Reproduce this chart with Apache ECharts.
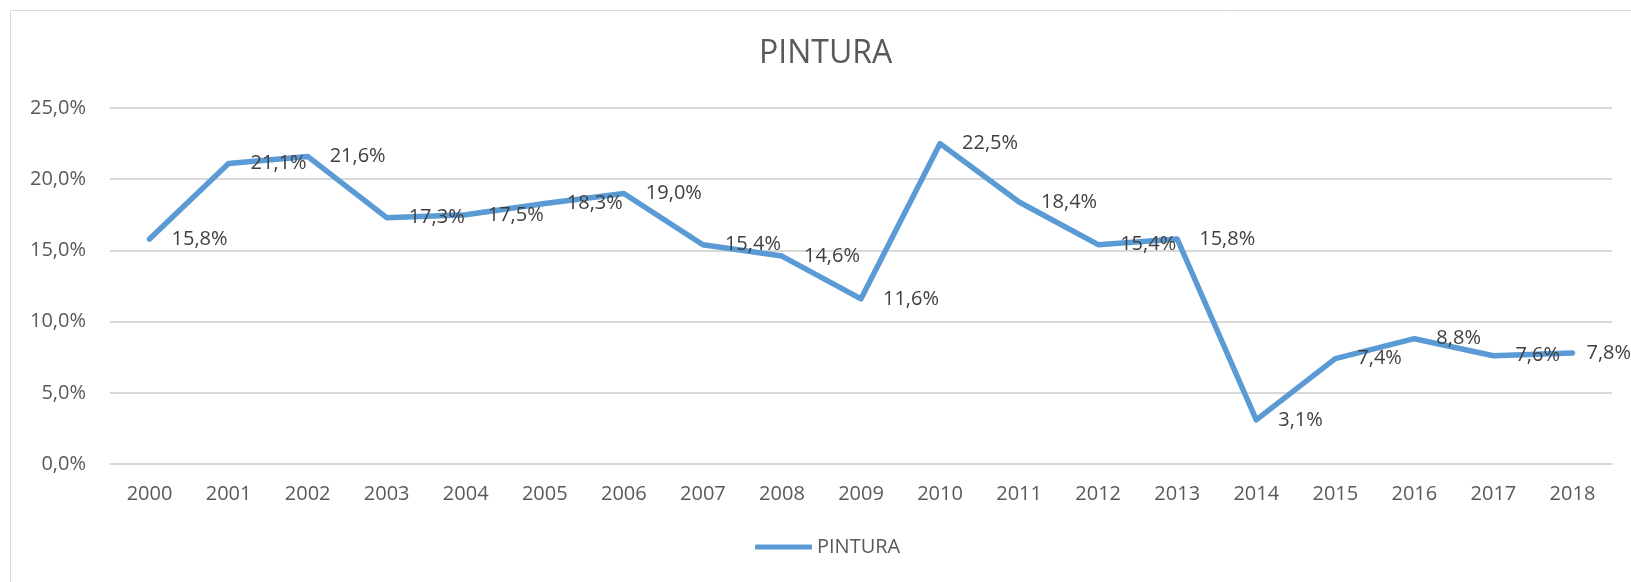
<!DOCTYPE html>
<html>
<head>
<meta charset="utf-8">
<title>PINTURA</title>
<script src="https://cdn.jsdelivr.net/npm/echarts@6/dist/echarts.min.js"></script>
<style>
  html, body { margin: 0; padding: 0; background: #fff; }
  #chart { width: 1631px; height: 582px; }
</style>
</head>
<body>
<div id="chart"></div>
<script>
// datos del gráfico
var years = ['2000', '2001', '2002', '2003', '2004', '2005', '2006', '2007', '2008', '2009',
  '2010', '2011', '2012', '2013', '2014', '2015', '2016', '2017', '2018'];
var pintura = [15.8, 21.1, 21.6, 17.3, 17.5, 18.3, 19.0, 15.4, 14.6, 11.6,
  22.5, 18.4, 15.4, 15.8, 3.1, 7.4, 8.8, 7.6, 7.8];
var yTicks = [0, 5, 10, 15, 20, 25];

var fontFamily = "'Open Sans', 'Noto Sans', sans-serif";

// formato con coma decimal
function pct(v) {
  return Number(v).toFixed(1).replace('.', ',') + '%';
}

var chart = echarts.init(document.getElementById('chart'));

var option = {
  animation: false,
  textStyle: { fontFamily: fontFamily },
  title: {
    text: 'PINTURA',
    left: 754,
    top: 33,
    textStyle: { fontSize: 32, fontWeight: 'normal', color: '#595959', fontFamily: fontFamily }
  },
  // marco del gráfico
  graphic: [{
    type: 'rect',
    shape: { x: 10.5, y: 10.5, width: 1650, height: 620 },
    style: { fill: 'none', stroke: '#D9D9D9', lineWidth: 1 },
    silent: true
  }],
  legend: {
    left: 755,
    top: 537,
    padding: 0,
    icon: 'roundRect',
    itemWidth: 57,
    itemHeight: 5,
    textStyle: { fontSize: 20, color: '#595959', fontFamily: fontFamily },
    data: ['PINTURA']
  },
  grid: {
    left: 110,
    right: 19,
    top: 108,
    bottom: 118,
    outerBoundsMode: 'none'
  },
  xAxis: {
    type: 'category',
    data: years,
    boundaryGap: true,
    axisLine: { show: true, lineStyle: { color: '#D9D9D9', width: 2 } },
    axisTick: { show: false },
    axisLabel: { color: '#595959', fontSize: 20, margin: 20, interval: 0 }
  },
  yAxis: {
    type: 'value',
    min: yTicks[0],
    max: yTicks[yTicks.length - 1],
    interval: 5,
    axisLine: { show: false },
    axisTick: { show: false },
    splitLine: { lineStyle: { color: '#D9D9D9', width: 2 } },
    axisLabel: { color: '#595959', fontSize: 20, margin: 24, formatter: pct }
  },
  series: [{
    name: 'PINTURA',
    type: 'line',
    data: pintura.map(function (v, i) {
      // el último rótulo queda más cerca para caber
      return i === pintura.length - 1 ? { value: v, label: { distance: 12 } } : v;
    }),
    symbol: 'circle',
    symbolSize: 4,
    showSymbol: true,
    itemStyle: { color: '#5B9BD5' },
    lineStyle: { color: '#5B9BD5', width: 5.5, cap: 'round', join: 'round' },
    label: {
      show: true,
      position: 'right',
      distance: 20,
      color: '#404040',
      fontSize: 20,
      formatter: function (p) { return pct(p.value); }
    },
    emphasis: { disabled: true }
  }]
};

chart.setOption(option);
</script>
</body>
</html>
